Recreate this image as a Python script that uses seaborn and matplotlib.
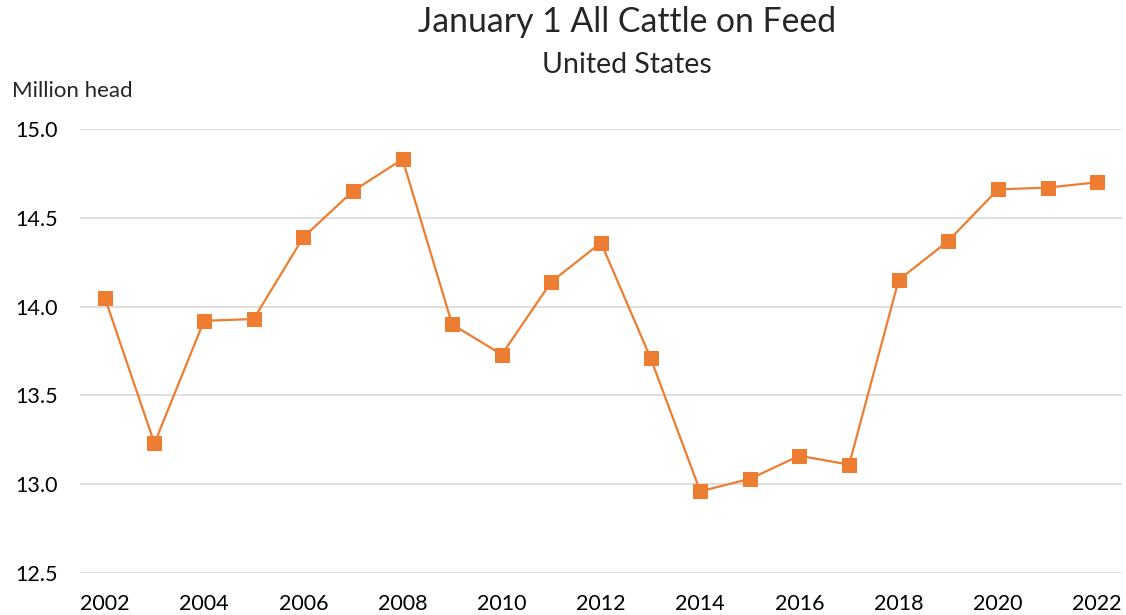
import numpy as np
import pandas as pd
import seaborn as sns
import matplotlib.pyplot as plt

years = list(range(2002, 2023))
cattle = [14.05, 13.23, 13.92, 13.93, 14.39, 14.65, 14.83, 13.90, 13.73, 14.14,
          14.36, 13.71, 12.96, 13.03, 13.16, 13.11, 14.15, 14.37, 14.66, 14.67, 14.70]
tick_years = list(range(2002, 2023, 2))
y_ticks = [12.5, 13.0, 13.5, 14.0, 14.5, 15.0]

df = pd.DataFrame({'year': years, 'cattle': cattle})

sns.set_style('white')
plt.rcParams['font.family'] = ['Lato', 'DejaVu Sans']

fig = plt.figure(figsize=(11.26, 6.15), dpi=100)
ax = fig.add_axes([80 / 1126, 1 - 573 / 615, 1042 / 1126, 444 / 615])

sns.lineplot(data=df, x='year', y='cattle', ax=ax, color='#ED7D31', linewidth=1.6,
             marker='s', markersize=10, markeredgecolor='#ED7D31', zorder=3)

ax.set_xlim(2001.5, 2022.5)
ax.set_ylim(12.5, 15.0)
ax.set_xticks(tick_years)
ax.set_xticklabels([str(y) for y in tick_years])
ax.set_yticks(y_ticks)
ax.set_yticklabels([f'{v:.1f}' for v in y_ticks])
ax.yaxis.grid(True, color='#d9d9d9', linewidth=1.2)
ax.set_axisbelow(True)
for s in ax.spines.values():
    s.set_visible(False)
ax.tick_params(axis='both', length=0, labelsize=15.5, colors='black')
ax.tick_params(axis='y', pad=16)
ax.tick_params(axis='x', pad=15)
ax.set_xlabel('')
ax.set_ylabel('')

fig.text(627 / 1126, 1 - 22 / 615, 'January 1 All Cattle on Feed', ha='center', va='center', fontsize=24.3)
fig.text(627 / 1126, 1 - 65 / 615, 'United States', ha='center', va='center', fontsize=20.5)
fig.text(12 / 1126, 1 - 91 / 615, 'Million head', ha='left', va='center', fontsize=16)

fig.savefig('out.png', dpi=100)
